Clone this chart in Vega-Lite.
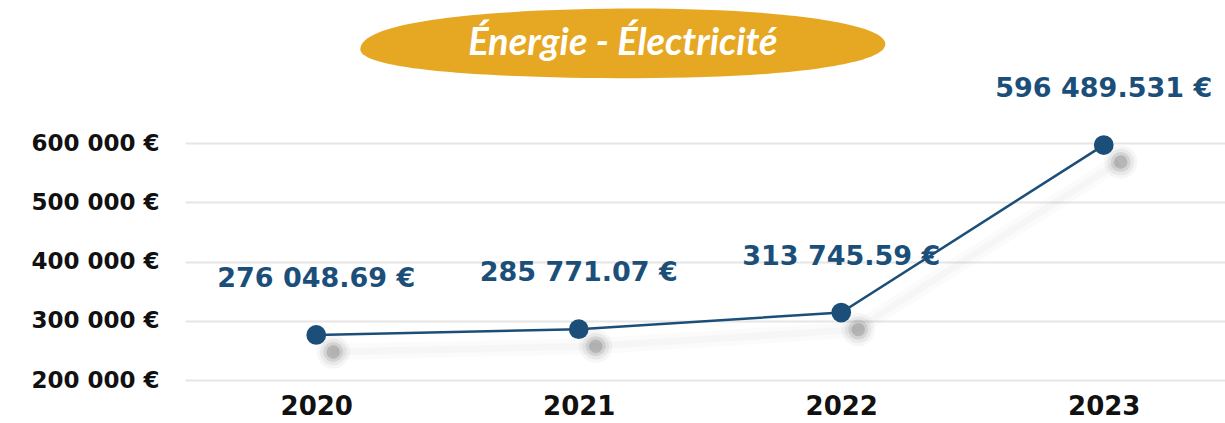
{
  "$schema": "https://vega.github.io/schema/vega-lite/v6.json",
  "autosize": {"type": "none"},
  "width": 1050,
  "height": 237,
  "padding": {"left": 185, "top": 143, "right": 0, "bottom": 43},
  "background": "white",
  "config": {"view": {"stroke": null}},
  "datasets": {
    "main": [
      {"year": "2020", "value": 276048.69, "label": "276 048.69 €"},
      {"year": "2021", "value": 285771.07, "label": "285 771.07 €"},
      {"year": "2022", "value": 313745.59, "label": "313 745.59 €"},
      {"year": "2023", "value": 596489.531, "label": "596 489.531 €"}
    ],
    "titlerow": [{"pos": 0.417, "level": 767000, "title": "Énergie - Électricité"}]
  },
  "layer": [
    {
      "data": {"name": "main"},
      "layer": [
        {
          "mark": {"type": "line", "color": "#999999", "strokeWidth": 16, "opacity": 0.04, "xOffset": 15, "yOffset": 17},
          "encoding": {
            "x": {"field": "year", "type": "ordinal", "scale": {"type": "point", "padding": 0.5},
              "axis": {"title": null, "domain": false, "ticks": false, "labelPadding": 13, "labelFont": "DejaVu Sans", "labelFontWeight": "bold", "labelFontSize": 26, "labelColor": "#111111", "labelAngle": 0, "grid": false}},
            "y": {"field": "value", "type": "quantitative", "scale": {"domain": [200000, 600000], "nice": false, "zero": false},
              "axis": {"title": null, "domain": false, "ticks": false, "values": [200000, 300000, 400000, 500000, 600000],
                "labelExpr": "format(datum.value/1000, 'd') + ' 000 €'", "labelPadding": 26, "labelFont": "DejaVu Sans", "labelFontWeight": "bold", "labelFontSize": 23, "labelColor": "#111111",
                "gridColor": "#e6e6e6", "gridWidth": 2}}
          }
        },
        {
          "mark": {"type": "line", "color": "#999999", "strokeWidth": 7, "opacity": 0.05, "xOffset": 15, "yOffset": 17},
          "encoding": {"x": {"field": "year", "type": "ordinal"}, "y": {"field": "value", "type": "quantitative"}}
        },
        {
          "mark": {"type": "point", "filled": true, "color": "#555555", "size": 1100, "opacity": 0.05, "xOffset": 17, "yOffset": 17},
          "encoding": {"x": {"field": "year", "type": "ordinal"}, "y": {"field": "value", "type": "quantitative"}}
        },
        {
          "mark": {"type": "point", "filled": true, "color": "#555555", "size": 700, "opacity": 0.08, "xOffset": 17, "yOffset": 17},
          "encoding": {"x": {"field": "year", "type": "ordinal"}, "y": {"field": "value", "type": "quantitative"}}
        },
        {
          "mark": {"type": "point", "filled": true, "color": "#444444", "size": 400, "opacity": 0.12, "xOffset": 17, "yOffset": 17},
          "encoding": {"x": {"field": "year", "type": "ordinal"}, "y": {"field": "value", "type": "quantitative"}}
        },
        {
          "mark": {"type": "point", "filled": true, "color": "#333333", "size": 180, "opacity": 0.18, "xOffset": 17, "yOffset": 17},
          "encoding": {"x": {"field": "year", "type": "ordinal"}, "y": {"field": "value", "type": "quantitative"}}
        },
        {
          "mark": {"type": "line", "color": "#1b4f7a", "strokeWidth": 2.5},
          "encoding": {"x": {"field": "year", "type": "ordinal"}, "y": {"field": "value", "type": "quantitative"}}
        },
        {
          "mark": {"type": "point", "filled": true, "color": "#1b4f7a", "size": 390, "opacity": 1},
          "encoding": {"x": {"field": "year", "type": "ordinal"}, "y": {"field": "value", "type": "quantitative"}}
        },
        {
          "mark": {"type": "text", "color": "#1b4f7a", "font": "DejaVu Sans", "fontWeight": "bold", "fontSize": 27, "dy": -56, "dx": 0},
          "encoding": {"x": {"field": "year", "type": "ordinal"}, "y": {"field": "value", "type": "quantitative"}, "text": {"field": "label"}}
        }
      ]
    },
    {
      "data": {"name": "titlerow"},
      "layer": [
        {
          "mark": {"type": "point", "filled": true, "color": "#e6a823", "opacity": 1, "size": 275625,
            "shape": "M-1,0.02 C-1,-0.1 -0.4,-0.135 0.05,-0.135 C0.6,-0.135 1,-0.08 1,0.0 C1,0.08 0.6,0.13 0.05,0.13 C-0.5,0.13 -1,0.1 -1,0.02 Z"},
          "encoding": {
            "x": {"field": "pos", "type": "quantitative", "scale": {"domain": [0, 1]}, "axis": null},
            "y": {"field": "level", "type": "quantitative"}
          }
        },
        {
          "mark": {"type": "text", "color": "white", "font": "Lato", "fontStyle": "italic", "fontWeight": "bold", "fontSize": 38, "baseline": "middle"},
          "encoding": {
            "x": {"field": "pos", "type": "quantitative", "scale": {"domain": [0, 1]}, "axis": null},
            "y": {"field": "level", "type": "quantitative"},
            "text": {"field": "title"}
          }
        }
      ],
      "resolve": {"scale": {"x": "independent"}}
    }
  ],
  "resolve": {"scale": {"x": "independent"}}
}
